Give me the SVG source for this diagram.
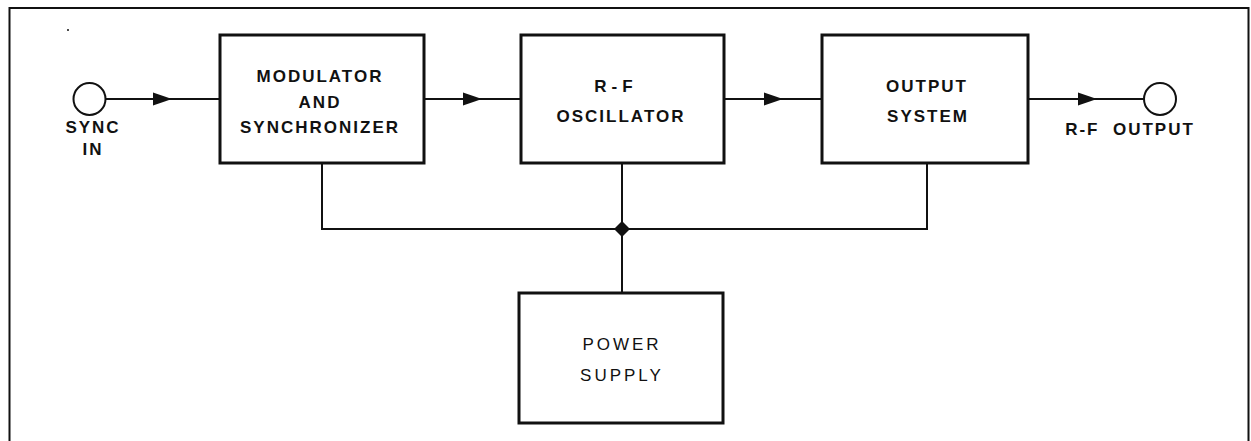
<svg xmlns="http://www.w3.org/2000/svg" xmlns:xlink="http://www.w3.org/1999/xlink" width="1251" height="441" viewBox="0 0 1251 441">
<style>
.box{fill:#fff;stroke:#111;stroke-width:3}
.ln{fill:none;stroke:#111;stroke-width:2}
.frame{fill:none;stroke:#111;stroke-width:2}
.lbl{font-family:"Liberation Sans",Arial,sans-serif;font-size:17px;font-weight:bold;fill:#111;text-anchor:middle;letter-spacing:2px}
.lbl2{font-family:"Liberation Sans",Arial,sans-serif;font-size:17px;font-weight:normal;fill:#111;text-anchor:middle;letter-spacing:3px}
.term{fill:#fff;stroke:#111;stroke-width:2}
</style>
<defs>
<path id="arrow" d="M0,0 L-19,-6.5 L-19,6.5 Z" fill="#111"/>
</defs>
<rect width="1251" height="441" fill="#fff"/>
<path class="frame" d="M9.5,441 V8 H1248.5 V441"/>
<circle cx="68" cy="30" r="1" fill="#111"/>

<g id="connectors">
<line class="ln" x1="106" y1="99" x2="220" y2="99"/>
<use xlink:href="#arrow" x="172" y="99"/>
<line class="ln" x1="424" y1="99" x2="521" y2="99"/>
<use xlink:href="#arrow" x="482" y="99"/>
<line class="ln" x1="724" y1="99" x2="822" y2="99"/>
<use xlink:href="#arrow" x="783" y="99"/>
<line class="ln" x1="1028" y1="99" x2="1144" y2="99"/>
<use xlink:href="#arrow" x="1097" y="99"/>
<path class="ln" d="M322,163 V229 H927 V163"/>
<line class="ln" x1="622" y1="163" x2="622" y2="293"/>
<path d="M622,221 L630,229 L622,237 L614,229 Z" fill="#111"/>
</g>

<g id="sync-in">
<circle class="term" cx="89.5" cy="99" r="16"/>
<text class="lbl" x="93" y="133">SYNC</text>
<text class="lbl" x="93" y="155">IN</text>
</g>

<g id="modulator">
<rect class="box" x="220" y="35" width="204" height="128"/>
<text class="lbl" x="320" y="82">MODULATOR</text>
<text class="lbl" x="320" y="108">AND</text>
<text class="lbl" x="320" y="133">SYNCHRONIZER</text>
</g>

<g id="rf-oscillator">
<rect class="box" x="521" y="35" width="203" height="128"/>
<text class="lbl" x="616" y="92" style="letter-spacing:5px">R-F</text>
<text class="lbl" x="621" y="122">OSCILLATOR</text>
</g>

<g id="output-system">
<rect class="box" x="822" y="35" width="206" height="128"/>
<text class="lbl" x="927" y="92">OUTPUT</text>
<text class="lbl" x="928" y="122">SYSTEM</text>
</g>

<g id="rf-output">
<circle class="term" cx="1160" cy="99" r="16"/>
<text class="lbl" x="1130" y="135">R-F&#160; OUTPUT</text>
</g>

<g id="power-supply">
<rect class="box" x="519" y="293" width="204" height="130"/>
<text class="lbl2" x="622" y="350">POWER</text>
<text class="lbl2" x="622" y="381">SUPPLY</text>
</g>
</svg>
